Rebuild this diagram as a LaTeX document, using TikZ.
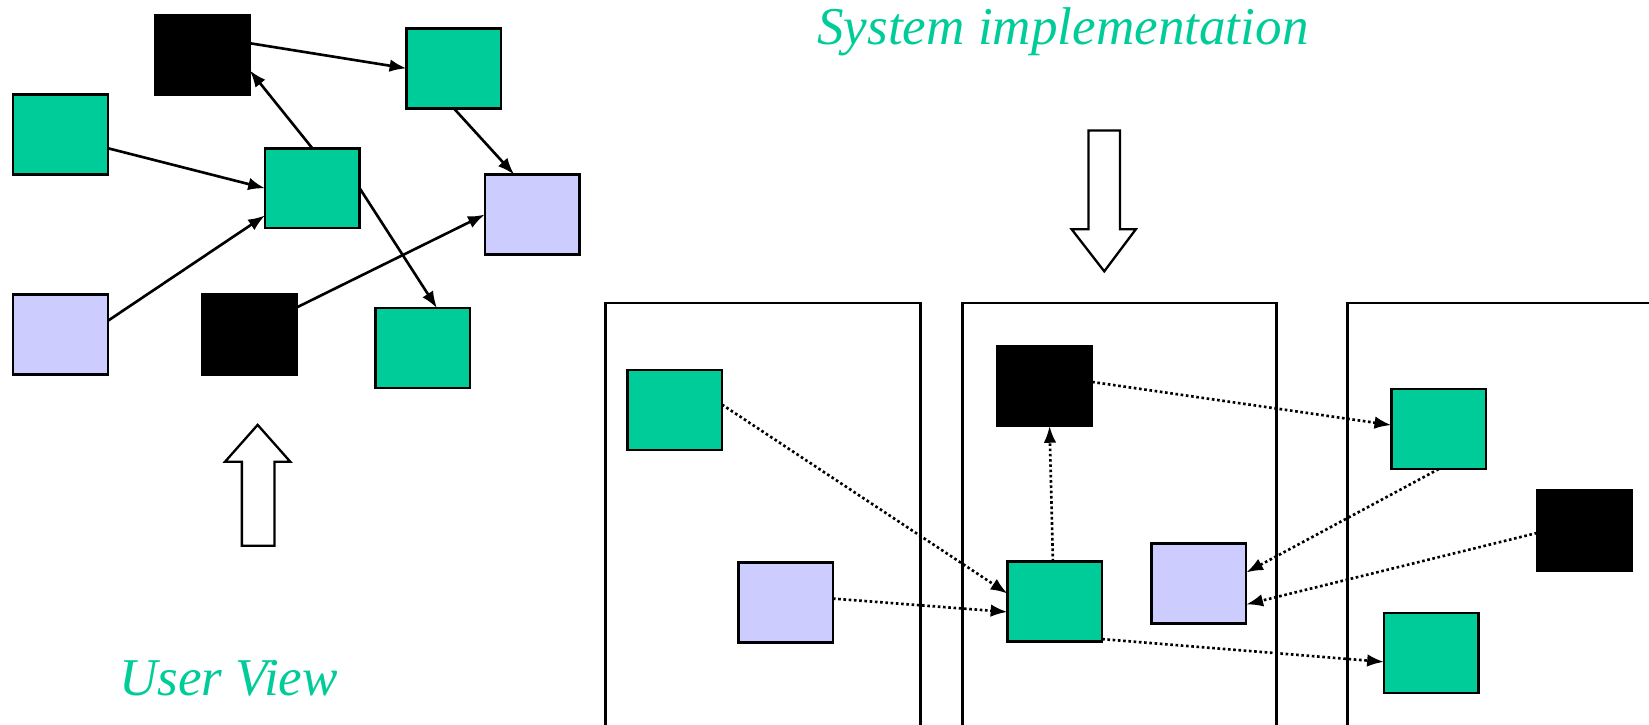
\documentclass[tikz,border=0pt]{standalone}
\usepackage{fontspec}
\setmainfont{Liberation Serif}
\usetikzlibrary{arrows.meta,calc}
\definecolor{tgreen}{RGB}{0,204,153}
\definecolor{tlav}{RGB}{204,204,255}
\tikzset{
  box/.style={rectangle, inner sep=0pt, outer sep=0pt, minimum width=90pt, minimum height=76pt, line width=2.4pt, draw=black},
  grn/.style={box, fill=tgreen},
  lav/.style={box, fill=tlav},
  blk/.style={box, fill=black},
  conn/.style={line width=2.5pt, -{Latex[length=16pt,width=12pt]}},
  dconn/.style={conn, dash pattern=on 2.5pt off 2.5pt},
  hollow/.style={draw=black, line width=2.2pt, fill=white, line join=miter},
  panel/.style={draw=black, line width=2.6pt},
  lbl/.style={text=tgreen, font=\fontsize{50.5pt}{60pt}\selectfont\itshape, anchor=base west, inner sep=0pt}
}
\begin{document}
\begin{tikzpicture}[x=1pt,y=-1pt]
\useasboundingbox (0,0) rectangle (1568,689);
% labels
\node[lbl] (sys) at (777,42) {System implementation};
\node[lbl] (usr) at (113,661) {User View};
% hollow arrows
\draw[hollow] (230,519) -- (230,439) -- (214,439) -- (245,404) -- (276,439) -- (261,439) -- (261,519) -- cycle;
\draw[hollow] (1035,124) -- (1065,124) -- (1065,218) -- (1080,218) -- (1050,258) -- (1019,218) -- (1035,218) -- cycle;
% panels
\draw[panel] (576,695) -- (576,288) -- (875,288) -- (875,695);
\draw[panel] (915,695) -- (915,288) -- (1214,288) -- (1214,695);
\draw[panel] (1281,695) -- (1281,288) -- (1575,288);
% left group
\node[blk] (k1) at (192.5,52.5) {};
\node[grn] (g2) at (431.5,65) {};
\node[grn] (g1) at (57.5,128) {};
\node[grn] (gc) at (297,179) {};
\node[lav] (lr) at (506,204) {};
\node[lav] (ll) at (57.5,318) {};
\node[blk] (k2) at (237.5,318) {};
\node[grn] (gb) at (402,331) {};
\draw[conn] ($(k1.north east)!0.35!(k1.south east)$) -- (g2.west);
\draw[conn] (g2.south) -- ($(lr.north west)!0.31!(lr.north east)$);
\draw[conn] ($(g1.north east)!0.67!(g1.south east)$) -- (gc.west);
\draw[conn] (gc.north) -- ($(k1.north east)!0.69!(k1.south east)$);
\draw[conn] ($(ll.north east)!0.33!(ll.south east)$) -- ($(gc.north west)!0.84!(gc.south west)$);
\draw[conn] (gc.east) -- ($(gb.north west)!0.65!(gb.north east)$);
\draw[conn] ($(k2.north east)!0.16!(k2.south east)$) -- (lr.west);
% right group
\node[grn] (a1) at (641.5,390) {};
\node[lav] (a2) at (747,573) {};
\node[blk] (b1) at (993.5,367) {};
\node[grn] (b2) at (1003,572) {};
\node[lav] (b3) at (1140,555) {};
\node[grn] (c1) at (1368,408) {};
\node[blk] (c2) at (1506.5,504.5) {};
\node[grn] (c3) at (1361,621) {};
\draw[dconn] ($(a1.north east)!0.43!(a1.south east)$) -- ($(b2.north west)!0.40!(b2.south west)$);
\draw[dconn] ($(a2.north east)!0.45!(a2.south east)$) -- ($(b2.north west)!0.63!(b2.south west)$);
\draw[dconn] ($(b2.north west)!0.48!(b2.north east)$) -- ($(b1.south west)!0.55!(b1.south east)$);
\draw[dconn] ($(b1.north east)!0.45!(b1.south east)$) -- ($(c1.north west)!0.45!(c1.south west)$);
\draw[dconn] (c1.south) -- ($(b3.north east)!0.36!(b3.south east)$);
\draw[dconn] ($(c2.north west)!0.53!(c2.south west)$) -- ($(b3.north east)!0.76!(b3.south east)$);
\draw[dconn] ($(b2.north east)!0.97!(b2.south east)$) -- ($(c3.north west)!0.61!(c3.south west)$);
\end{tikzpicture}
\end{document}
